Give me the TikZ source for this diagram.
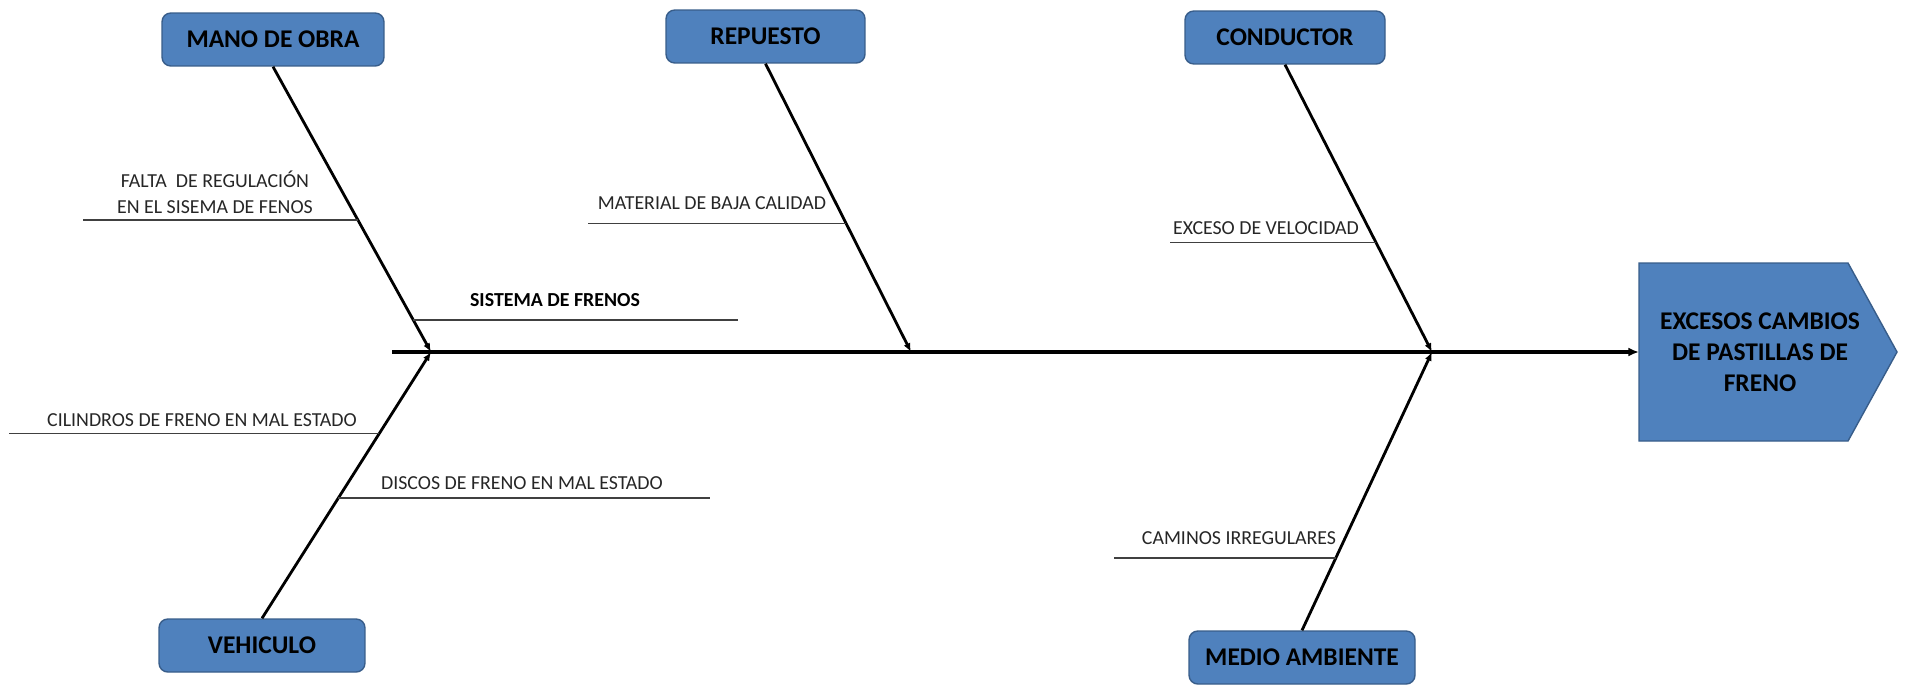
\documentclass[tikz,border=0pt]{standalone}
\usepackage{fontspec}
\setmainfont{Carlito}
\usetikzlibrary{arrows.meta}
\tikzset{>=latex}
\definecolor{azul}{HTML}{4F81BD}
\definecolor{azulborde}{HTML}{385D8A}
\tikzset{
  causa/.style={draw=azulborde,fill=azul,rounded corners=5pt,line width=0.8pt,minimum height=1.06cm,font=\fontsize{14.5}{17}\selectfont\bfseries},
  espina/.style={line width=1.6pt,-{Latex[length=5pt,width=4pt]}},
  sub/.style={black!75,line width=1pt},
  texto/.style={black!85,font=\fontsize{11.3}{14.5}\selectfont,inner sep=0pt},
}

\begin{document}
\begin{tikzpicture}[x=0.02cm,y=-0.02cm]
    \useasboundingbox (0,0) rectangle (1905,687);
    \node [causa,minimum width=4.44cm] (mano) at (273,39.5) {MANO DE OBRA};
    \node [causa,minimum width=3.98cm] (repuesto) at (765.5,36.5) {REPUESTO};
    \node [causa,minimum width=4.0cm] (conductor) at (1285,37.5) {CONDUCTOR};
    \node [causa,minimum width=4.12cm] (vehiculo) at (262,645.5) {VEHICULO};
    \node [causa,minimum width=4.52cm] (medio) at (1302,657.5) {MEDIO AMBIENTE};
    \draw [draw=azulborde,fill=azul,line width=0.8pt] (1639,263) -- (1848,263) -- (1897,352) -- (1848,441) -- (1639,441) -- cycle;
    \node [align=center,font=\fontsize{14.5}{17.8}\selectfont\bfseries] (efecto) at (1760,352) {EXCESOS CAMBIOS\\DE PASTILLAS DE\\FRENO};

    \coordinate (cola) at (392,352);
    \coordinate (punta) at (1639,352);
    \coordinate (j1) at (431,352);
    \coordinate (j2) at (911,352);
    \coordinate (j3) at (1432,352);
    \draw [line width=1.9pt,-{Latex[length=6pt,width=5pt]}] (cola) -- (punta);

    \draw [espina] (mano.south) -- coordinate [pos=0.537] (m1) coordinate [pos=0.888] (m2) (j1);
    \draw [espina] (repuesto.south) -- coordinate [pos=0.554] (r1) (j2);
    \draw [espina] (conductor.south) -- coordinate [pos=0.619] (c1) (j3);
    \draw [espina] (vehiculo.north) -- coordinate [pos=0.694] (v1) coordinate [pos=0.451] (v2) (j1);
    \draw [espina] (medio.north) -- coordinate [pos=0.259] (a1) (j3);

    \draw [sub] (m1) -- ++(-275,0);
    \draw [sub] (m2) -- ++(325,0);
    \draw [sub] (r1) -- ++(-258,0);
    \draw [sub] (c1) -- ++(-206,0);
    \draw [sub] (v1) -- ++(-370,0);
    \draw [sub] (v2) -- ++(372,0);
    \draw [sub] (a1) -- ++(-222,0);

    \node [texto,align=center] (falta) at (215,192.5) {FALTA\ \ DE REGULACIÓN\\EN EL SISEMA DE FENOS};
    \node [texto,font=\fontsize{11.3}{14.5}\selectfont\bfseries,text=black] (sistema) at (555,300) {SISTEMA DE FRENOS};
    \node [texto] (material) at (712,203) {MATERIAL DE BAJA CALIDAD};
    \node [texto] (exceso) at (1266,228) {EXCESO DE VELOCIDAD};
    \node [texto] (cilindros) at (202,420) {CILINDROS DE FRENO EN MAL ESTADO};
    \node [texto] (discos) at (522,483) {DISCOS DE FRENO EN MAL ESTADO};
    \node [texto] (caminos) at (1239,538) {CAMINOS IRREGULARES};
\end{tikzpicture}
\end{document}
